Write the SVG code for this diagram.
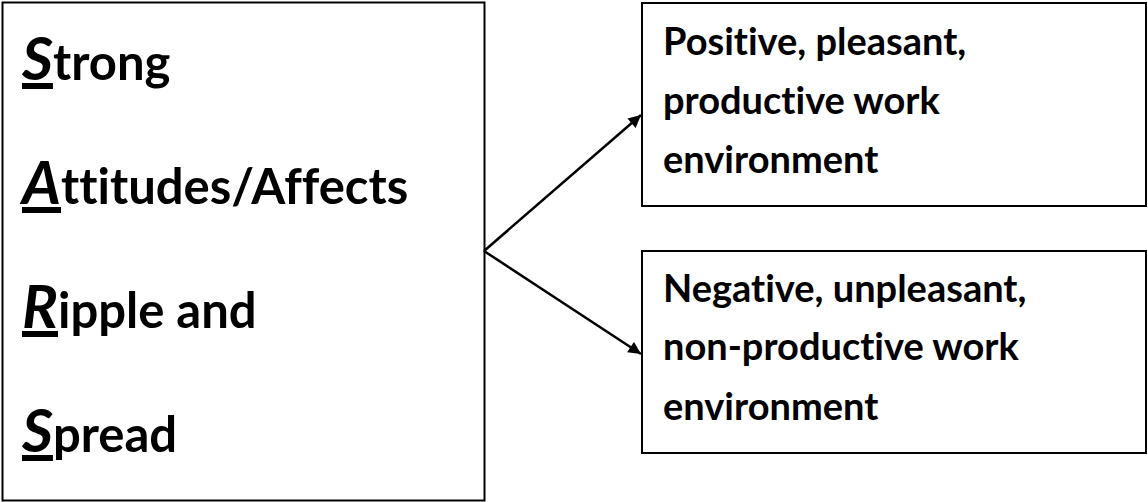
<svg xmlns="http://www.w3.org/2000/svg" width="1148" height="502" viewBox="0 0 1148 502">
<defs>
<style>
text{font-variant-ligatures:none;font-feature-settings:"liga" 0,"clig" 0}
.box{fill:#fff;stroke:#000;stroke-width:2}
.big{font-family:Lato,"Liberation Sans",sans-serif;font-weight:bold;font-size:49px;fill:#000}
.cap{font-style:italic;font-size:60px;text-decoration:underline}
.sm{font-family:Lato,"Liberation Sans",sans-serif;font-weight:bold;font-size:38px;fill:#000}
.conn{stroke:#000;stroke-width:2.5;fill:none;marker-end:url(#ah)}
</style>
<marker id="ah" viewBox="0 0 10 10" refX="10" refY="5" markerWidth="6" markerHeight="5" markerUnits="strokeWidth" orient="auto">
<path d="M0,0 L10,5 L0,10 z" fill="#000"/>
</marker>
</defs>
<rect width="1148" height="502" fill="#fff"/>
<g id="node-sars">
<rect class="box" x="2.5" y="2.5" width="482" height="498"/>
<text class="big" x="22" y="80"><tspan class="cap">S</tspan>trong</text>
<text class="big" x="22" y="204"><tspan class="cap">A</tspan>ttitudes/Affects</text>
<text class="big" x="22" y="328"><tspan class="cap">R</tspan>ipple and</text>
<text class="big" x="22" y="452"><tspan class="cap">S</tspan>pread</text>
</g>
<g id="node-positive">
<rect class="box" x="642" y="3" width="504" height="203"/>
<text class="sm" x="663" y="55">Positive, pleasant,</text>
<text class="sm" x="663" y="114">productive work</text>
<text class="sm" x="663" y="173">environment</text>
</g>
<g id="node-negative">
<rect class="box" x="642" y="251" width="504" height="202"/>
<text class="sm" x="663" y="302">Negative, unpleasant,</text>
<text class="sm" x="663" y="360">non-productive work</text>
<text class="sm" x="663" y="420">environment</text>
</g>
<g id="connectors">
<line class="conn" x1="484" y1="251" x2="641" y2="115"/>
<line class="conn" x1="484" y1="251" x2="641" y2="354"/>
</g>
</svg>
